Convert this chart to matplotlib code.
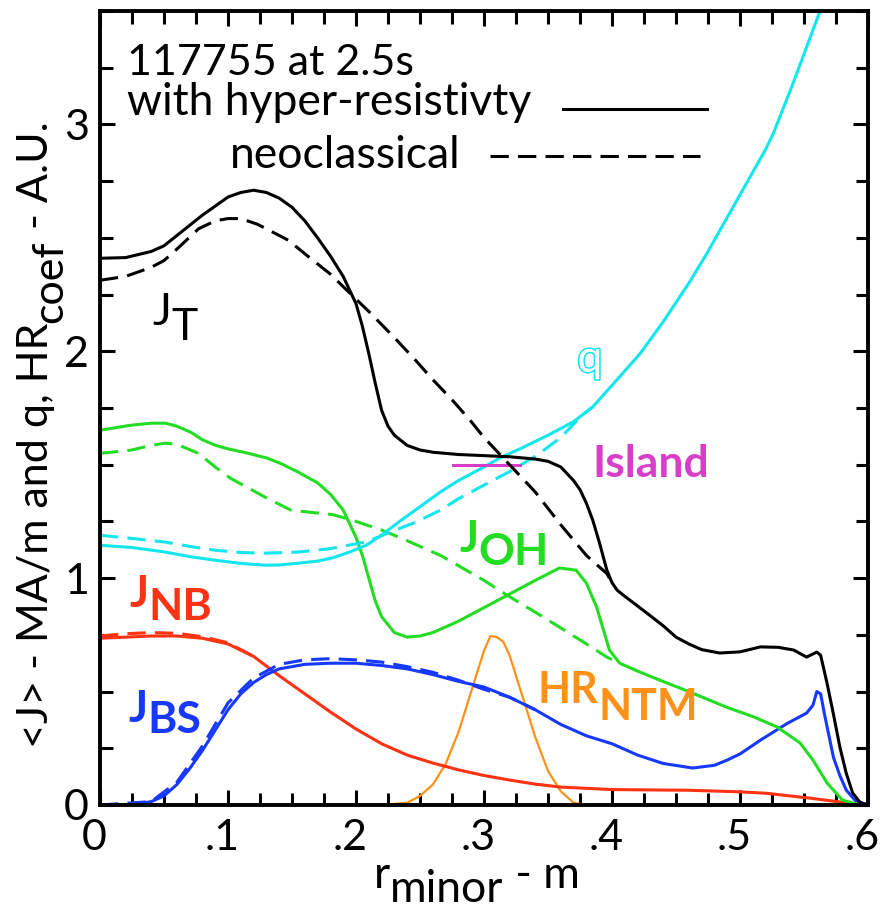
import numpy as np
import matplotlib.pyplot as plt
import matplotlib.patheffects as pe
from matplotlib.ticker import MultipleLocator
from matplotlib.transforms import ScaledTranslation

plt.rcParams['font.family'] = ['Lato', 'DejaVu Sans']

# total current J_T
jt_r = [0, 0.02, 0.04, 0.05, 0.06, 0.08, 0.10, 0.11, 0.12, 0.13, 0.14, 0.15, 0.16, 0.17,
        0.18, 0.19, 0.20, 0.205, 0.21, 0.215, 0.22, 0.225, 0.23, 0.24, 0.25, 0.26, 0.28,
        0.30, 0.32, 0.34, 0.35, 0.36, 0.37, 0.375, 0.38, 0.385, 0.39, 0.396, 0.40, 0.404,
        0.41, 0.424, 0.44, 0.45, 0.46, 0.47, 0.484, 0.50, 0.516, 0.53, 0.542, 0.552, 0.56,
        0.563, 0.568, 0.573, 0.578, 0.583, 0.588, 0.594, 0.60]
jt_hr = [2.41, 2.413, 2.44, 2.465, 2.51, 2.60, 2.68, 2.70, 2.71, 2.70, 2.675, 2.635,
         2.575, 2.50, 2.42, 2.33, 2.21, 2.11, 1.99, 1.86, 1.74, 1.67, 1.63, 1.585, 1.565,
         1.555, 1.545, 1.54, 1.535, 1.525, 1.515, 1.49, 1.43, 1.39, 1.33, 1.255, 1.16,
         1.035, 0.98, 0.947, 0.92, 0.86, 0.79, 0.74, 0.71, 0.685, 0.67, 0.675, 0.697,
         0.695, 0.683, 0.652, 0.674, 0.66, 0.537, 0.40, 0.256, 0.14, 0.053, 0.01, 0.0]
jt_neo_r = [0, 0.02, 0.04, 0.05, 0.06, 0.077, 0.09, 0.10, 0.11, 0.123, 0.135, 0.147,
            0.16, 0.18, 0.20, 0.211, 0.23, 0.245, 0.26, 0.276, 0.29, 0.30, 0.32, 0.34,
            0.36, 0.38, 0.396, 0.40]
jt_neo = [2.313, 2.33, 2.37, 2.40, 2.45, 2.54, 2.575, 2.585, 2.585, 2.56, 2.525, 2.49,
          2.43, 2.34, 2.23, 2.17, 2.06, 1.97, 1.875, 1.78, 1.69, 1.62, 1.50, 1.38, 1.235,
          1.10, 1.02, 0.98]

# ohmic current J_OH
joh_r = [0, 0.024, 0.04, 0.051, 0.06, 0.071, 0.08, 0.09, 0.10, 0.116, 0.13, 0.141, 0.155,
         0.17, 0.18, 0.19, 0.20, 0.205, 0.21, 0.215, 0.22, 0.23, 0.24, 0.25, 0.26, 0.28,
         0.30, 0.32, 0.34, 0.359, 0.372, 0.38, 0.388, 0.398, 0.406, 0.42, 0.4375, 0.46,
         0.49, 0.51, 0.529, 0.547, 0.557, 0.568, 0.58, 0.59, 0.60]
joh_hr = [1.652, 1.674, 1.683, 1.683, 1.67, 1.643, 1.61, 1.586, 1.57, 1.55, 1.53, 1.506,
          1.467, 1.42, 1.37, 1.30, 1.18, 1.10, 1.00, 0.90, 0.83, 0.76, 0.74, 0.745, 0.76,
          0.81, 0.87, 0.93, 0.99, 1.045, 1.035, 0.978, 0.872, 0.683, 0.625, 0.59, 0.55,
          0.50, 0.43, 0.39, 0.344, 0.273, 0.198, 0.097, 0.022, 0.005, 0.0]
joh_neo_r = [0, 0.024, 0.04, 0.051, 0.06, 0.077, 0.09, 0.102, 0.115, 0.129, 0.149, 0.165,
             0.182, 0.20, 0.221, 0.24, 0.266, 0.28, 0.30, 0.318, 0.34, 0.359, 0.38, 0.396,
             0.406]
joh_neo = [1.55, 1.564, 1.585, 1.595, 1.59, 1.55, 1.49, 1.44, 1.40, 1.357, 1.30, 1.29,
           1.28, 1.25, 1.21, 1.165, 1.10, 1.055, 0.99, 0.925, 0.85, 0.784, 0.71, 0.652,
           0.625]

# safety factor q
q_r = [0, 0.025, 0.051, 0.07, 0.09, 0.11, 0.129, 0.14, 0.155, 0.17, 0.182, 0.195, 0.208,
       0.22, 0.234, 0.25, 0.266, 0.28, 0.30, 0.3125, 0.33, 0.35, 0.37, 0.385, 0.40,
       0.422, 0.44, 0.46, 0.474, 0.49, 0.50, 0.52, 0.526, 0.54, 0.55, 0.5625, 0.57]
q_hr = [1.145, 1.135, 1.115, 1.095, 1.079, 1.065, 1.057, 1.058, 1.066, 1.075, 1.09, 1.115,
        1.145, 1.19, 1.25, 1.315, 1.38, 1.43, 1.49, 1.53, 1.575, 1.63, 1.69, 1.755, 1.85,
        1.99, 2.13, 2.30, 2.43, 2.59, 2.69, 2.89, 2.96, 3.16, 3.31, 3.50, 3.62]
q_neo_r = [0, 0.025, 0.051, 0.07, 0.09, 0.11, 0.129, 0.155, 0.18, 0.208, 0.23, 0.248,
           0.266, 0.28, 0.30, 0.32, 0.341, 0.36, 0.377, 0.385]
q_neo = [1.189, 1.175, 1.159, 1.14, 1.123, 1.113, 1.11, 1.115, 1.13, 1.16, 1.21, 1.25,
         1.30, 1.35, 1.41, 1.47, 1.54, 1.62, 1.72, 1.755]

# beam driven current J_NB
jnb_r = [0, 0.02, 0.04, 0.06, 0.08, 0.10, 0.12, 0.14, 0.16, 0.18, 0.20, 0.22, 0.24, 0.26,
         0.28, 0.30, 0.32, 0.34, 0.36, 0.40, 0.46, 0.50, 0.52, 0.555, 0.58, 0.60]
jnb_hr = [0.735, 0.74, 0.745, 0.745, 0.735, 0.71, 0.655, 0.57, 0.49, 0.41, 0.335, 0.27,
          0.22, 0.185, 0.155, 0.13, 0.11, 0.092, 0.079, 0.068, 0.065, 0.058, 0.052, 0.03,
          0.012, 0.0]
jnb_neo_r = [0, 0.02, 0.04, 0.06, 0.08, 0.10, 0.12]
jnb_neo = [0.745, 0.755, 0.76, 0.757, 0.742, 0.715, 0.655]

# bootstrap current J_BS
jbs_r = [0, 0.02, 0.03, 0.04, 0.05, 0.06, 0.07, 0.08, 0.09, 0.10, 0.11, 0.12, 0.13, 0.14,
         0.16, 0.18, 0.20, 0.22, 0.24, 0.26, 0.28, 0.30, 0.32, 0.34, 0.36, 0.38, 0.40,
         0.42, 0.44, 0.463, 0.48, 0.49, 0.50, 0.516, 0.537, 0.552, 0.557, 0.56, 0.563,
         0.566, 0.573, 0.578, 0.583, 0.59, 0.60]
jbs_hr = [0, 0, 0.005, 0.015, 0.04, 0.09, 0.16, 0.24, 0.33, 0.42, 0.49, 0.54, 0.575,
          0.60, 0.62, 0.625, 0.625, 0.615, 0.60, 0.575, 0.545, 0.52, 0.475, 0.42, 0.355,
          0.305, 0.27, 0.22, 0.183, 0.163, 0.175, 0.198, 0.225, 0.286, 0.36, 0.405, 0.44,
          0.50, 0.49, 0.40, 0.21, 0.13, 0.066, 0.02, 0.0]
jbs_neo_r = [0, 0.04, 0.06, 0.08, 0.10, 0.12, 0.14, 0.16, 0.18, 0.20, 0.22, 0.24, 0.26,
             0.28, 0.30, 0.32, 0.34]
jbs_neo = [0, 0.015, 0.10, 0.26, 0.45, 0.56, 0.62, 0.64, 0.645, 0.64, 0.63, 0.61, 0.585,
           0.55, 0.51, 0.475, 0.42]

# hyper-resistivity coefficient HR_NTM
hr_r = [0.22, 0.24, 0.25, 0.26, 0.27, 0.28, 0.29, 0.30, 0.305, 0.31, 0.315, 0.32, 0.33,
        0.34, 0.35, 0.36, 0.37, 0.38]
hr_coef = [0, 0.01, 0.04, 0.09, 0.18, 0.32, 0.50, 0.68, 0.745, 0.74, 0.72, 0.66, 0.48,
           0.30, 0.15, 0.06, 0.01, 0]

island_r = [0.276, 0.328]
island_q = [1.5, 1.5]

xticks = [0, 0.1, 0.2, 0.3, 0.4, 0.5, 0.6]
xtick_labels = ['0', '.1', '.2', '.3', '.4', '.5', '.6']
yticks = [0, 1, 2, 3]

black = 'black'
cyan = '#12E6EE'
green = '#22DD22'
red = '#FF3212'
blue = '#1638FF'
orange = '#FF9018'
magenta = '#D83FC8'

lw = 2.2
dash = (6, 3)

fig = plt.figure(figsize=(8.8, 9.15), dpi=100)
ax = fig.add_axes([100 / 880, 1 - 805 / 915, 768 / 880, 794 / 915])

ax.plot(hr_r, hr_coef, color=orange, lw=1.6)
ax.plot(jnb_neo_r, jnb_neo, color=red, lw=lw, dashes=dash)
ax.plot(jnb_r, jnb_hr, color=red, lw=lw)
ax.plot(jbs_neo_r, jbs_neo, color=blue, lw=lw, dashes=dash)
ax.plot(jbs_r, jbs_hr, color=blue, lw=lw)
ax.plot(joh_neo_r, joh_neo, color=green, lw=lw, dashes=dash)
ax.plot(joh_r, joh_hr, color=green, lw=lw)
ax.plot(q_neo_r, q_neo, color=cyan, lw=lw, dashes=dash)
ax.plot(q_r, q_hr, color=cyan, lw=lw)
ax.plot(island_r, island_q, color=magenta, lw=lw)
ax.plot(jt_neo_r, jt_neo, color=black, lw=lw, dashes=dash)
ax.plot(jt_r, jt_hr, color=black, lw=lw)

ax.set_xlim(0, 0.6)
ax.set_ylim(0, 3.5)
ax.set_xticks(xticks)
ax.set_xticklabels(xtick_labels)
ax.set_yticks(yticks)
ax.xaxis.set_minor_locator(MultipleLocator(0.025))
ax.yaxis.set_minor_locator(MultipleLocator(0.25))
ax.tick_params(which='both', direction='in', top=True, right=True, width=2.2,
               labelsize=31)
ax.tick_params(which='major', length=11)
ax.tick_params(which='minor', length=9)
ax.tick_params(axis='x', pad=10)
ax.tick_params(axis='y', pad=8)
for sp in ax.spines.values():
    sp.set_linewidth(2.8)
# the reference sets its x labels a little left of the ticks
shift = ScaledTranslation(-0.06, 0, fig.dpi_scale_trans)
for t in ax.get_xticklabels():
    t.set_transform(t.get_transform() + shift)


def chain(first, pieces, rotated=False, **kw):
    # glue text pieces end to end, lvl < 0 drops a piece to subscript
    prev, prev_lvl = first, 0
    for s, lvl in pieces:
        d = lvl - prev_lvl
        if rotated:
            prev = ax.annotate(s, xy=(1, 1), xycoords=prev, xytext=(-d, 0),
                               textcoords='offset points', ha='right', va='bottom',
                               rotation=90, annotation_clip=False, **kw)
        else:
            prev = ax.annotate(s, xy=(1, 0), xycoords=prev, xytext=(0, d),
                               textcoords='offset points', ha='left', va='bottom',
                               annotation_clip=False, **kw)
        prev_lvl = lvl


def label(x, y, main, sub, color, weight='bold', size=32, drop=-10):
    kw = dict(color=color, fontsize=size, fontweight=weight)
    t = ax.text(x, y, main, ha='left', va='baseline', **kw)
    chain(t, [(sub, drop)], **kw)


label(0.041, 2.115, 'J', 'T', black, weight='normal', drop=-11)
label(0.023, 0.872, 'J', 'NB', red, drop=-9)
label(0.022, 0.366, 'J', 'BS', blue, drop=-8)
label(0.281, 1.115, 'J', 'OH', green, drop=-9)
label(0.342, 0.449, 'HR', 'NTM', orange, size=31, drop=-12)
ax.text(0.385, 1.445, 'Island', color=magenta, fontsize=32, fontweight='bold',
        va='baseline')
ax.text(0.373, 1.91, 'q', color='white', fontsize=32, va='baseline',
        path_effects=[pe.Stroke(linewidth=2.2, foreground=cyan), pe.Normal()])

ax.text(0.021, 3.216, '117755 at 2.5s', fontsize=31, va='baseline')
ax.text(0.021, 3.04, 'with hyper-resistivty', fontsize=32, va='baseline')
ax.text(0.1016, 2.806, 'neoclassical', fontsize=32, va='baseline')
ax.plot([0.362, 0.474], [3.07, 3.07], color=black, lw=lw)
ax.plot([0.305, 0.469], [2.863, 2.863], color=black, lw=lw, dashes=dash)

# axis titles with full size subscripts
xl = fig.text(374 / 880, 1 - 888 / 915, 'r', fontsize=32, ha='left', va='baseline')
chain(xl, [('minor', -10), (' - m', 0)], fontsize=32)
yl = fig.text(55 / 880, 1 - 748 / 915, '<J> - MA/m and q, HR', fontsize=31,
              rotation=90, ha='right', va='bottom')
chain(yl, [('coef', -10), (' - A.U.', 0)], rotated=True, fontsize=31)

fig.savefig('out.png', dpi=100)
